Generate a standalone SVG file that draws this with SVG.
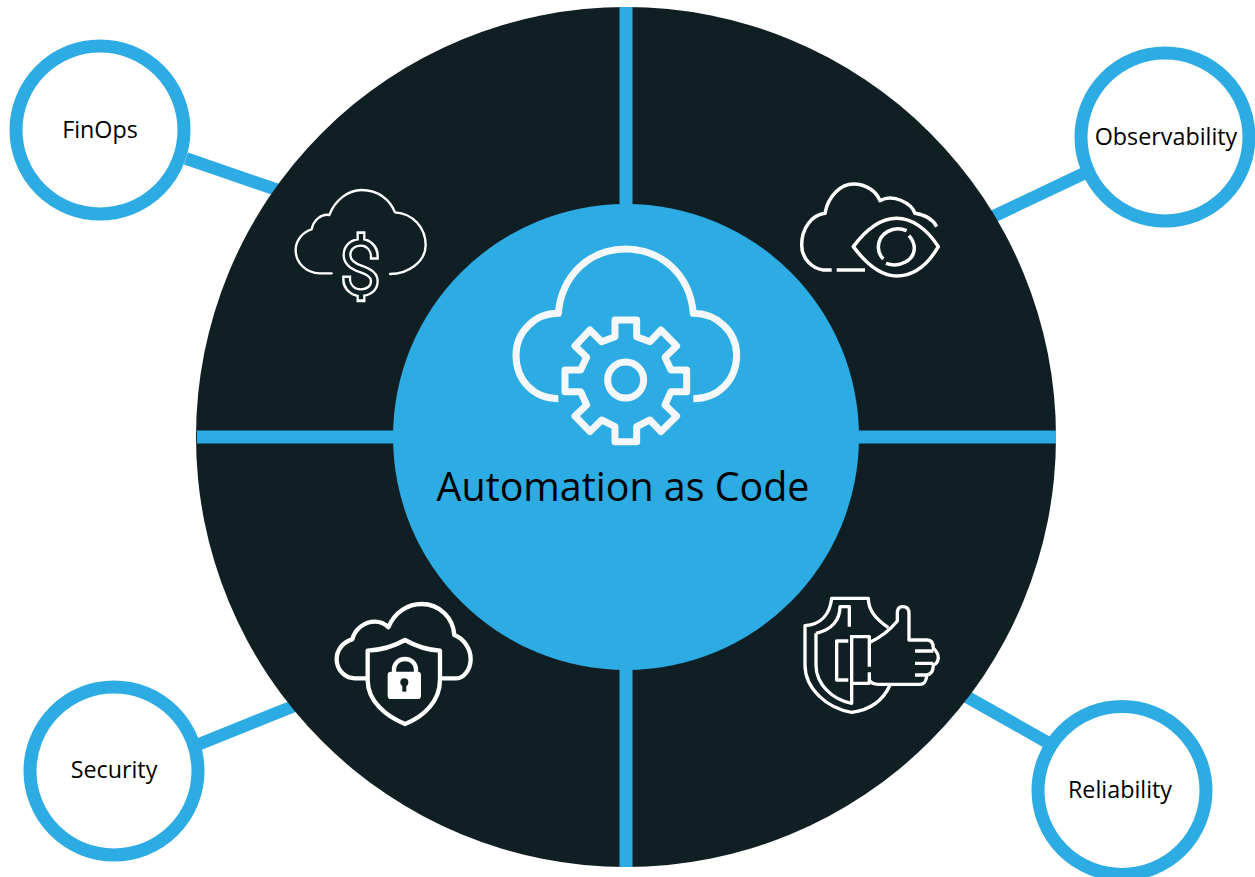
<svg xmlns="http://www.w3.org/2000/svg" width="1255" height="877" viewBox="0 0 1255 877">
<style>
.ring{fill:#fff;stroke:#2dabe3;stroke-width:13}
.conn{stroke:#2dabe3;stroke-width:12.5;fill:none}
.div{stroke:#2dabe3;stroke-width:13;fill:none}
.ic{fill:none;stroke:#fff;stroke-linejoin:round}
.lbl{font-family:"Open Sans","Noto Sans",sans-serif;font-size:23.3px;fill:#000;text-anchor:middle}
.title{font-family:"Open Sans","Noto Sans",sans-serif;font-size:39.4px;fill:#000;text-anchor:middle}
</style>
<g id="connectors">
<line class="conn" x1="186" y1="158.5" x2="282" y2="191.5"/>
<line class="conn" x1="1087" y1="172" x2="990" y2="218"/>
<line class="conn" x1="197" y1="745" x2="299" y2="704"/>
<line class="conn" x1="960" y1="693" x2="1052" y2="745"/>
</g>
<g id="wheel">
<circle cx="626" cy="437" r="430" fill="#101f24"/>
<line class="div" x1="626" y1="7" x2="626" y2="867"/>
<line class="div" x1="197" y1="437" x2="1056" y2="437"/>
<circle cx="626" cy="437" r="233" fill="#2dabe3"/>
</g>
<g id="center">
<g transform="translate(490 230) scale(.3333)">
<path class="ic" stroke-width="21" d="M205 506C130 506 78 450 78 375C78 305 135 250 205 250C215 135 300 57 407 57C515 57 600 135 610 250C680 250 740 305 740 375C740 450 685 506 610 506" style="stroke:#f5f8fa"/>
<path class="ic" stroke-width="21" style="stroke:#f5f8fa" d="M375 270H440V320L480 335L513 300L560 348L525 382L543 420H590V485H543L525 525L560 558L513 605L480 570L440 590V635H375V590L335 570L300 605L255 558L290 525L272 485H225V420H272L290 382L255 348L300 300L335 335L375 320Z"/>
<circle class="ic" stroke-width="21" style="stroke:#f5f8fa" cx="407" cy="450" r="54"/>
</g>
<text class="title" x="623" y="501">Automation as Code</text>
</g>
<g id="finops-icon" transform="translate(280 170) scale(.3333)">
<path class="ic" stroke-width="7" stroke-linecap="round" d="M155 310H120C75 310 47 275 47 240C47 210 70 185 95 178C100 150 125 130 148 135C165 90 205 60 245 60C295 60 330 90 345 127C400 130 437 175 437 225C437 275 385 312 330 312"/>
<path fill="none" stroke="#fff" stroke-width="27" stroke-linecap="square" d="M243 197V217M283 256C283 235 265 217 243 217C218 217 201 233 201 255C201 280 222 290 243 297C265 304 283 313 283 333C283 355 265 368 243 368C220 368 200 352 200 330M243 368V383"/>
<path fill="none" stroke="#101f24" stroke-width="13" d="M243 192V217M283 262C283 235 265 217 243 217C218 217 201 233 201 255C201 280 222 290 243 297C265 304 283 313 283 333C283 355 265 368 243 368C220 368 200 352 200 324M243 368V388"/>
</g>
<g id="observability-icon" transform="translate(790 170) scale(.3333)">
<path class="ic" stroke-width="10.500" d="M125 300H100C65 295 35 265 35 225C35 175 65 135 105 130C115 75 155 42 190 42C230 42 260 65 270 92C310 70 365 100 375 130C405 135 430 150 440 170"/>
<path class="ic" stroke-width="10.500" d="M140 300H225"/>
<path class="ic" stroke-width="10.500" d="M190 230C235 170 275 145 320 145C365 145 410 175 445 230C410 290 365 318 320 318C275 318 235 290 190 230Z"/>
<path class="ic" stroke-width="10.500" d="M350 182C310 165 265 190 265 232C265 245 270 257 280 267M357 197C368 210 373 220 373 235C373 270 330 295 288 280"/>
</g>
<g id="security-icon" transform="translate(325 590) scale(.3333)">
<path class="ic" stroke-width="13" d="M125 265H90C60 265 35 240 35 207C35 180 55 155 82 148C90 115 120 95 150 95C165 95 180 102 190 112C210 65 250 42 290 42C345 42 385 85 388 135C415 145 437 175 437 207C437 240 415 265 395 265H347"/>
<path class="ic" stroke-width="13" d="M240 150C205 170 170 180 128 182V270C128 335 185 380 240 402C295 380 345 335 345 270V182C305 180 275 170 240 150Z"/>
<path class="ic" stroke-width="13" d="M207 250V238C207 220 222 207 240 207C258 207 273 220 273 238V250"/>
<rect x="188" y="245" width="100" height="82" rx="10" fill="#fff"/>
<circle cx="238" cy="277" r="12" fill="#101f24"/>
<rect x="232" y="280" width="12" height="25" fill="#101f24"/>
</g>
<g id="reliability-icon" transform="translate(790 585) scale(.3333)">
<path class="ic" stroke-width="10" d="M295 128C255 100 235 75 235 40H125C120 85 95 118 45 122V240C45 310 110 370 185 382C240 375 280 345 300 300"/>
<path class="ic" stroke-width="10" d="M78 145C125 135 150 105 150 65H178V125M78 145V240C78 300 130 345 185 355V150"/>
<path class="ic" stroke-width="10" d="M175 168H140V285H175M185 155H238V245M238 262V295H185"/>
<path class="ic" stroke-width="10" d="M240 172C265 160 300 135 322 108V85C322 72 328 65 338 65C350 65 357 72 357 85V165H412C428 165 430 180 430 190C442 200 445 210 445 220C443 232 438 238 430 240C430 255 425 268 410 270C410 285 403 298 390 298H265C250 298 242 292 238 285M375 198H430M375 235H430M375 270H410"/>
</g>
<g id="finops"><circle class="ring" cx="100" cy="130" r="84"/><text class="lbl" x="100" y="138">FinOps</text></g>
<g id="observability"><circle class="ring" cx="1165" cy="137" r="84"/><text class="lbl" x="1166" y="145">Observability</text></g>
<g id="security"><circle class="ring" cx="114" cy="771" r="84"/><text class="lbl" x="114" y="778">Security</text></g>
<g id="reliability"><circle class="ring" cx="1122" cy="790.500" r="84"/><text class="lbl" x="1120" y="798">Reliability</text></g>
</svg>
